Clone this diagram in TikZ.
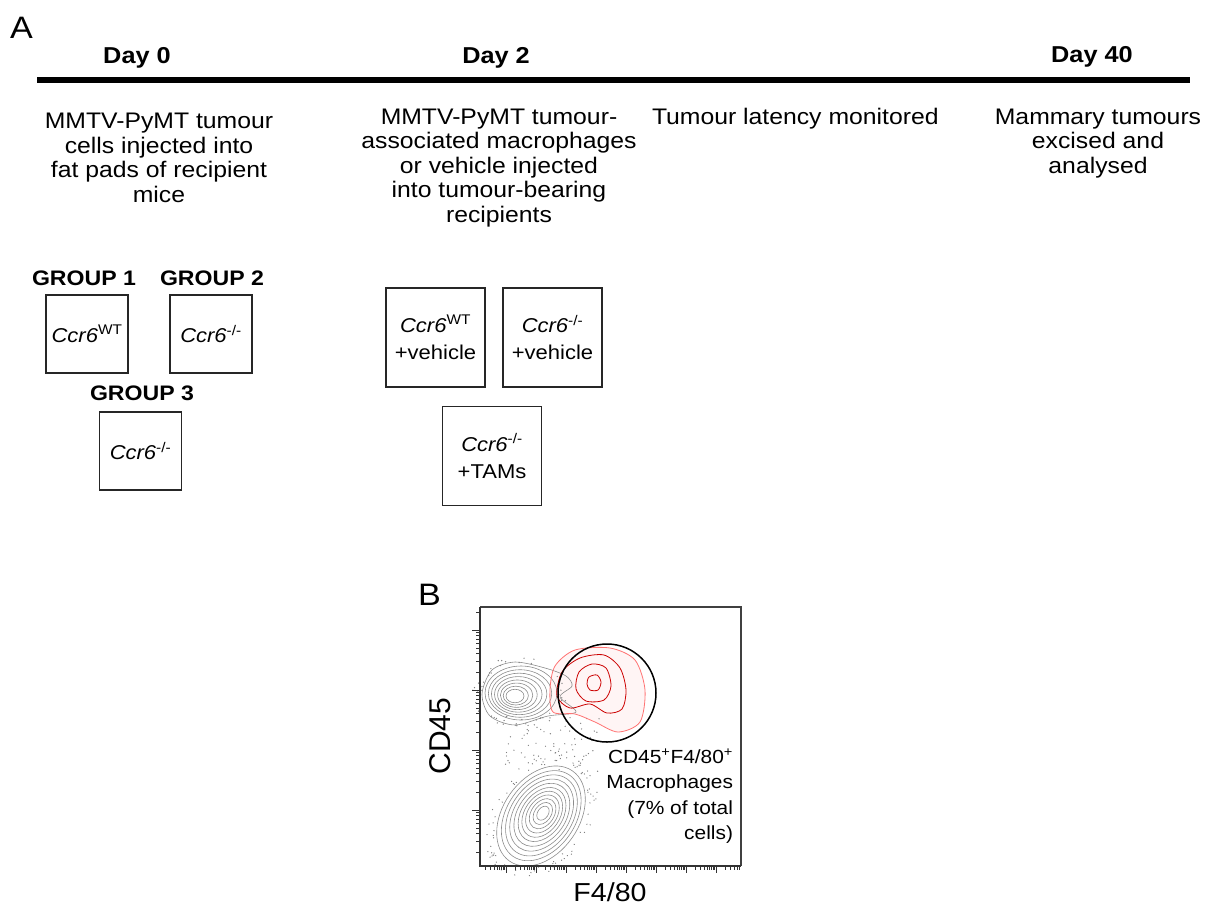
\documentclass[tikz,border=0pt]{standalone}
\usepackage{fontspec}
\setmainfont{Liberation Sans}[FakeStretch=1.1]
\newfontfamily\axisfont{Liberation Sans}
\usetikzlibrary{positioning}

\newcommand{\fsz}[2]{\fontsize{#1}{#2}\selectfont}

\begin{document}
\begin{tikzpicture}[x=1pt, y=-1pt, every node/.style={inner sep=0pt, outer sep=0pt}, panel letter/.style={font=\fsz{31}{33}, anchor=base west}, day label/.style={font=\fsz{23}{26}\bfseries, anchor=base}, phase text/.style={font=\fsz{22.5}{24.5}, align=center, anchor=base}, group label/.style={font=\fsz{21}{24}\bfseries, anchor=base}, mouse box/.style={draw=black!85, line width=1.4pt, minimum width=82pt, minimum height=78pt, font=\fsz{20}{27}, align=center}, tam box/.style={mouse box, minimum width=99pt, minimum height=99pt}, timeline/.style={line width=6pt, black}, axis line/.style={black!80, line width=1.6pt}, frame line/.style={black!75, line width=1.1pt}, tick mark/.style={black!80, line width=0.8pt}, gray contour/.style={black!45, line width=0.6pt}, red contour/.style={red!80!black, line width=0.8pt}, gate/.style={black, line width=1.5pt}, event dot/.style={fill=black!50}]

    \useasboundingbox (0,0) rectangle (1217,908);

    % =========================================================================
    % PANEL A: timeline
    % =========================================================================
    \node[panel letter] (letA) at (10,38) {A};

    \node[day label] (day0) at (137,63) {Day 0};
    \node[day label] (day2) at (496,63) {Day 2};
    \node[day label] (day40) at (1092,62) {Day 40};

    \coordinate (tstart) at (37,80);
    \coordinate (tend) at (1190,80);
    \draw[timeline] (tstart) -- (tend);

    % Steps under the line (base = last line)
    \node[phase text] (txt0) at (159,202) {MMTV-PyMT tumour\\cells injected into\\fat pads of recipient\\mice};
    \node[phase text] (txt2) at (499,222) {MMTV-PyMT tumour-\\associated macrophages\\or vehicle injected\\into tumour-bearing\\recipients};
    \node[phase text, anchor=base west] (txtmid) at (652,124) {Tumour latency monitored};
    \node[phase text] (txt40) at (1098,173) {Mammary tumours\\excised and\\analysed};

    % Day 0 groups
    \node[group label] (lab1) at (84,285) {GROUP 1};
    \node[group label] (lab2) at (212,285) {GROUP 2};
    \node[group label] (lab3) at (142,400) {GROUP 3};
    \node[mouse box] (g1) at (87,334) {\textit{Ccr6}\textsuperscript{WT}};
    \node[mouse box] (g2) at (211,334) {\textit{Ccr6}\textsuperscript{-/-}};
    \node[mouse box] (g3) at (140.5,451) {\textit{Ccr6}\textsuperscript{-/-}};

    % Day 2 treatments
    \node[tam box] (v1) at (435.5,337.5) {\textit{Ccr6}\textsuperscript{WT}\\+vehicle};
    \node[tam box] (v2) at (552.5,337.5) {\textit{Ccr6}\textsuperscript{-/-}\\+vehicle};
    \node[tam box] (t3) at (492,456) {\textit{Ccr6}\textsuperscript{-/-}\\+TAMs};

    % =========================================================================
    % PANEL B: CD45 / F4/80 contour plot
    % =========================================================================
    \node[panel letter] (letB) at (418,605) {B};

    \coordinate (o) at (480,866);
    \coordinate (ytop) at (480,607);
    \coordinate (xend) at (741,866);
    \coordinate (corner) at (741,607);

    % faint fill under the gated population
    \fill[red!4] plot[smooth cycle] coordinates {(555,666) (575,650) (610,648) (635,660) (645,690) (640,722) (618,732) (595,722) (575,714) (553,712) (550,690)};

    % scattered events
    \pgfmathsetseed{11}
    \foreach \i in {1,...,70}{
        \fill[event dot] ({505+95*rnd},{716+58*rnd}) circle [radius=0.7];
    }
    \begin{scope}[shift={(541,816)}, rotate=55]
        \foreach \i in {1,...,90}{
            \pgfmathsetmacro{\ang}{360*rnd}
            \pgfmathsetmacro{\rr}{1.03+0.2*rnd}
            \fill[event dot] (\ang:{57*\rr} and {39*\rr}) circle [radius=0.7];
        }
    \end{scope}
    \begin{scope}[shift={(520,693)}]
        \foreach \i in {1,...,45}{
            \pgfmathsetmacro{\ang}{360*rnd}
            \pgfmathsetmacro{\rr}{1.05+0.25*rnd}
            \fill[event dot] (\ang:{37*\rr} and {28*\rr}) circle [radius=0.7];
        }
    \end{scope}

    % F4/80 low population
    \foreach \s in {1.0,0.88,0.77,0.66,0.55,0.45,0.35,0.25}{
        \draw[gray contour] ({513+8*\s},{697-4*\s}) ellipse [x radius={36*\s}, y radius={27*\s}];
    }
    \draw[gray contour] plot[smooth cycle] coordinates {(482,694) (492,670) (515,662) (545,668) (566,676) (572,686) (560,697) (576,712) (548,716) (515,725) (490,716)};

    % CD45 low population
    \begin{scope}[shift={(541,816)}, rotate=55]
        \foreach \s in {1.0,0.9,0.81,0.72,0.63,0.54,0.46,0.38,0.3,0.22,0.14}{
            \draw[gray contour] ({4*(1-\s)},0) ellipse [x radius={55*\s}, y radius={38*\s}];
        }
    \end{scope}

    % gated macrophages
    \draw[red contour] plot[smooth cycle] coordinates {(589,677) (597,675) (601,682) (598,690) (590,690) (587,684)};
    \draw[red contour] plot[smooth cycle] coordinates {(579,672) (592,664) (606,668) (611,686) (604,700) (586,701) (576,689)};
    \draw[red contour] plot[smooth cycle] coordinates {(562,672) (580,658) (604,655) (620,668) (626,690) (622,709) (607,713) (590,704) (570,708) (557,696)};
    \draw[red contour, red!55] plot[smooth cycle] coordinates {(555,666) (575,650) (610,648) (635,660) (645,690) (640,722) (618,732) (595,722) (575,714) (553,712) (550,690)};
    \draw[gate] (607,693) circle [radius=49];

    % frame and axes
    \draw[frame line] (ytop) -- (corner) -- (xend);
    \draw[axis line] (ytop) -- (o) -- (xend);

    % log ticks, left axis
    \foreach \m in {870,810,750,690,630}{
        \foreach \k in {1,...,9}{
            \pgfmathsetmacro{\ty}{\m-60*log10(\k)}
            \pgfmathtruncatemacro{\ok}{(\ty>=607)&&(\ty<=866)}
            \ifnum\ok=1
                \ifnum\k=1 \draw[tick mark] (480,\ty) -- ++(-8,0);
                \else \draw[tick mark] (480,\ty) -- ++(-4,0); \fi
            \fi
        }
    }
    % log ticks, bottom axis
    \foreach \m in {476,506,536,566,596,626,656,686,716}{
        \foreach \k in {1,...,9}{
            \pgfmathsetmacro{\tx}{\m+30*log10(\k)}
            \pgfmathtruncatemacro{\ok}{(\tx>=480)&&(\tx<=741)}
            \ifnum\ok=1
                \ifnum\k=1 \draw[tick mark] (\tx,866) -- ++(0,7);
                \else \draw[tick mark] (\tx,866) -- ++(0,4); \fi
            \fi
        }
    }

    % labels
    \node[font=\axisfont\fsz{30}{32}, rotate=90, anchor=center] (ylab) at (440,736) {CD45};
    \node[font=\fsz{26}{30}, anchor=base] (xlab) at (610,901) {F4/80};
    \node[font=\fsz{19}{25.5}, align=right, anchor=base east] (gatelab) at (733,839.5) {CD45\textsuperscript{+}F4/80\textsuperscript{+}\\Macrophages\\(7\% of total\\cells)};

\end{tikzpicture}
\end{document}
